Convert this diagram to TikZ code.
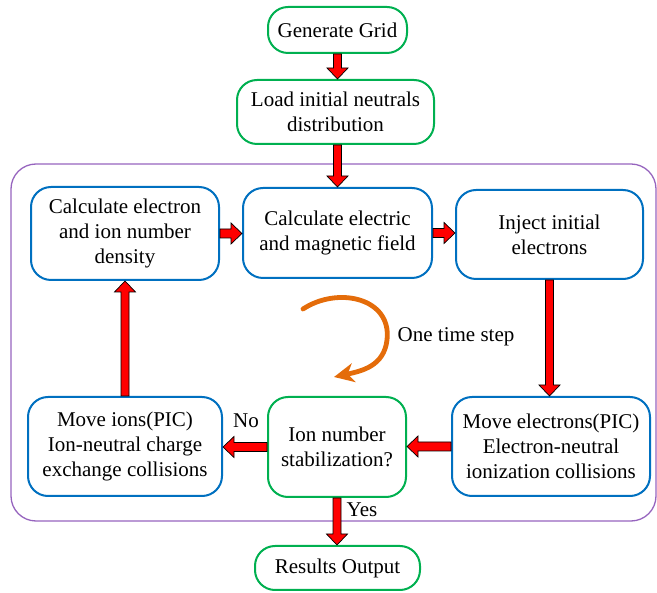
\documentclass[tikz,border=0pt]{standalone}
\usepackage{fontspec}
\setmainfont{Liberation Serif}
\usetikzlibrary{calc,arrows.meta}
\definecolor{gboxc}{RGB}{0,176,80}
\definecolor{bboxc}{RGB}{0,112,192}
\definecolor{framec}{RGB}{150,100,190}
\definecolor{orangec}{RGB}{228,108,10}
\tikzset{
  blkarrow/.style={draw=black, fill=red, line width=0.7pt, line join=miter},
  basebox/.style={line width=2pt, rounded corners=20pt, align=center, inner sep=0pt,
    font=\fontsize{21}{24.8}\selectfont},
  gbox/.style={basebox, draw=gboxc},
  bbox/.style={basebox, draw=bboxc},
  lbl/.style={font=\fontsize{21}{24.8}\selectfont, inner sep=0pt, anchor=base},
}
\newcommand\arrD[2]{\path[blkarrow] let \p1=(#1), \p2=(#2) in (\x1-4pt,\y1) -- (\x1-4pt,\y2+11pt) -- (\x1-10.5pt,\y2+11pt) -- (\x1,\y2) -- (\x1+10.5pt,\y2+11pt) -- (\x1+4pt,\y2+11pt) -- (\x1+4pt,\y1) -- cycle;}
\newcommand\arrU[2]{\path[blkarrow] let \p1=(#1), \p2=(#2) in (\x1-4pt,\y1) -- (\x1-4pt,\y2-11pt) -- (\x1-10.5pt,\y2-11pt) -- (\x1,\y2) -- (\x1+10.5pt,\y2-11pt) -- (\x1+4pt,\y2-11pt) -- (\x1+4pt,\y1) -- cycle;}
\newcommand\arrR[2]{\path[blkarrow] let \p1=(#1), \p2=(#2) in (\x1,\y1+4.5pt) -- (\x2-11pt,\y1+4.5pt) -- (\x2-11pt,\y1+10.5pt) -- (\x2,\y1) -- (\x2-11pt,\y1-10.5pt) -- (\x2-11pt,\y1-4.5pt) -- (\x1,\y1-4.5pt) -- cycle;}
\newcommand\arrL[2]{\path[blkarrow] let \p1=(#1), \p2=(#2) in (\x1,\y1+4.5pt) -- (\x2+11pt,\y1+4.5pt) -- (\x2+11pt,\y1+10.5pt) -- (\x2,\y1) -- (\x2+11pt,\y1-10.5pt) -- (\x2+11pt,\y1-4.5pt) -- (\x1,\y1-4.5pt) -- cycle;}
\begin{document}
\begin{tikzpicture}[x=1pt,y=-1pt]
\useasboundingbox (0,0) rectangle (657,593);
% frame
\draw[framec, line width=1.3pt, rounded corners=25pt] (11,164) rectangle (656,521);
% nodes
\node[gbox, minimum width=139pt, minimum height=46pt] (gen) at (337.5,30) {Generate Grid};
\node[gbox, minimum width=197pt, minimum height=64pt] (load) at (335.5,112) {Load initial neutrals\\distribution};
\node[bbox, minimum width=188pt, minimum height=93pt] (cden) at (125,233.5) {Calculate electron\\and ion number\\density};
\node[bbox, minimum width=189pt, minimum height=90pt] (cfield) at (337.5,233) {Calculate electric\\and magnetic field};
\node[bbox, minimum width=187pt, minimum height=89pt] (inj) at (549.5,234.5) {Inject initial\\electrons};
\node[bbox, minimum width=194pt, minimum height=99pt] (mions) at (125,446.5) {Move ions(PIC)\\Ion-neutral charge\\exchange collisions};
\node[gbox, minimum width=138pt, minimum height=100pt] (stab) at (337,447) {Ion number\\stabilization?};
\node[bbox, minimum width=198pt, minimum height=99pt] (melec) at (551,446.5) {Move electrons(PIC)\\Electron-neutral\\ionization collisions};
\node[gbox, minimum width=165pt, minimum height=44pt] (res) at (337.5,568) {Results Output};
% block arrows
\arrD{gen.south}{load.north}
\arrD{$(gen.south)+(0,91)$}{cfield.north}
\arrR{cden.east}{cfield.west}
\arrR{cfield.east}{inj.west}
\arrD{inj.south}{melec.north}
\arrL{melec.west}{stab.east}
\arrL{stab.west}{mions.east}
\arrU{mions.north}{cden.south}
\arrD{stab.south}{res.north}
% labels
\node[lbl] (no) at (246,428) {No};
\node[lbl] (yes) at (362,517) {Yes};
\node[lbl] (step) at (456,342) {One time step};
% curved orange arrow
\coordinate (cs) at (303,309);
\coordinate (ce) at (334,377);
\draw[orangec, line width=4.8pt, line cap=round, -{Stealth[length=20pt,width=19pt,inset=6pt]}]
  (cs) .. controls (338,286) and (392,298) .. (387,340) .. controls (384,366) and (362,371) .. (ce);
\end{tikzpicture}
\end{document}
